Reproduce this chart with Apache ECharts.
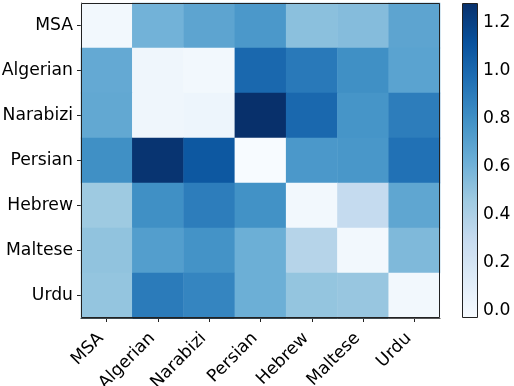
<!DOCTYPE html>
<html>
<head>
<meta charset="utf-8">
<script src="https://cdn.jsdelivr.net/npm/echarts@6/dist/echarts.min.js"></script>
<style>html,body{margin:0;padding:0;background:#fff}#c{width:514px;height:386px}</style>
</head>
<body>
<div id="c"></div>
<script>
const languages = ['MSA', 'Algerian', 'Narabizi', 'Persian', 'Hebrew', 'Maltese', 'Urdu'];
// rows (top to bottom) x columns (left to right)
const rowMSA      = [0.00, 0.60, 0.68, 0.75, 0.52, 0.54, 0.68];
const rowAlgerian = [0.65, 0.02, 0.00, 1.00, 0.91, 0.80, 0.69];
const rowNarabizi = [0.66, 0.02, 0.03, 1.28, 1.00, 0.77, 0.89];
const rowPersian  = [0.80, 1.26, 1.08, -0.03, 0.75, 0.76, 0.95];
const rowHebrew   = [0.46, 0.80, 0.89, 0.79, 0.00, 0.30, 0.67];
const rowMaltese  = [0.50, 0.72, 0.78, 0.62, 0.36, 0.00, 0.56];
const rowUrdu     = [0.49, 0.90, 0.85, 0.62, 0.49, 0.48, 0.00];
const colorbarTicks = [0.0, 0.2, 0.4, 0.6, 0.8, 1.0, 1.2];
const scaleMin = -0.033, scaleMax = 1.28;

const rows = [rowMSA, rowAlgerian, rowNarabizi, rowPersian, rowHebrew, rowMaltese, rowUrdu];
const data = [];
rows.forEach((r, yi) => r.forEach((v, xi) => data.push([xi, yi, v])));

const blues = ['#f7fbff','#deebf7','#c6dbef','#9ecae1','#6baed6','#4292c6','#2171b5','#08519c','#08306b'];
const G = {left: 81, top: 3, width: 359, height: 315};
const CB = {left: 462, top: 3, width: 16, height: 315};
const font = 'DejaVu Sans';
const fs = 17.2;

const chart = echarts.init(document.getElementById('c'));
chart.setOption({
  animation: false,
  grid: [
    {left: G.left, top: G.top, width: G.width, height: G.height, containLabel: false, outerBoundsMode: 'none'},
    {left: CB.left, top: CB.top, width: CB.width, height: CB.height, containLabel: false, outerBoundsMode: 'none'}
  ],
  xAxis: [
    {type: 'category', data: languages, gridIndex: 0,
     axisLine: {show: true, lineStyle: {color: '#222'}},
     axisTick: {show: true, alignWithLabel: true, length: 4, lineStyle: {color: '#222'}},
     axisLabel: {rotate: 45, color: '#000', fontFamily: font, fontSize: fs, margin: 12, padding: [0, 8, 0, 0]},
     splitLine: {show: false}},
    {type: 'value', gridIndex: 1, show: false}
  ],
  yAxis: [
    {type: 'category', data: languages, inverse: true, gridIndex: 0,
     axisLine: {show: true, lineStyle: {color: '#222'}},
     axisTick: {show: true, alignWithLabel: true, length: 4, lineStyle: {color: '#222'}},
     axisLabel: {color: '#000', fontFamily: font, fontSize: fs, margin: 8},
     splitLine: {show: false}},
    {type: 'value', gridIndex: 1, position: 'right', min: scaleMin, max: scaleMax,
     axisLine: {show: false},
     axisTick: {show: true, length: 4, customValues: colorbarTicks, lineStyle: {color: '#222'}},
     axisLabel: {color: '#000', fontFamily: font, fontSize: fs, margin: 5,
                 customValues: colorbarTicks, formatter: v => v.toFixed(1)},
     splitLine: {show: false}}
  ],
  visualMap: {
    type: 'continuous', min: scaleMin, max: scaleMax, seriesIndex: 0,
    left: CB.left, top: CB.top, itemWidth: CB.width, itemHeight: CB.height,
    padding: 0, calculable: false, text: null, showLabel: false,
    inRange: {color: blues}
  },
  graphic: [
    {type: 'rect', z: 100, shape: {x: G.left + 0.5, y: G.top + 0.5, width: G.width - 1, height: G.height - 1},
     style: {fill: 'none', stroke: '#222', lineWidth: 1}},
    {type: 'rect', z: 100, shape: {x: CB.left + 0.5, y: CB.top + 0.5, width: CB.width - 1, height: CB.height - 1},
     style: {fill: 'none', stroke: '#222', lineWidth: 1}}
  ],
  series: [{
    type: 'heatmap', xAxisIndex: 0, yAxisIndex: 0, data: data,
    itemStyle: {borderWidth: 0}, emphasis: {disabled: true}
  }]
});
</script>
</body>
</html>
